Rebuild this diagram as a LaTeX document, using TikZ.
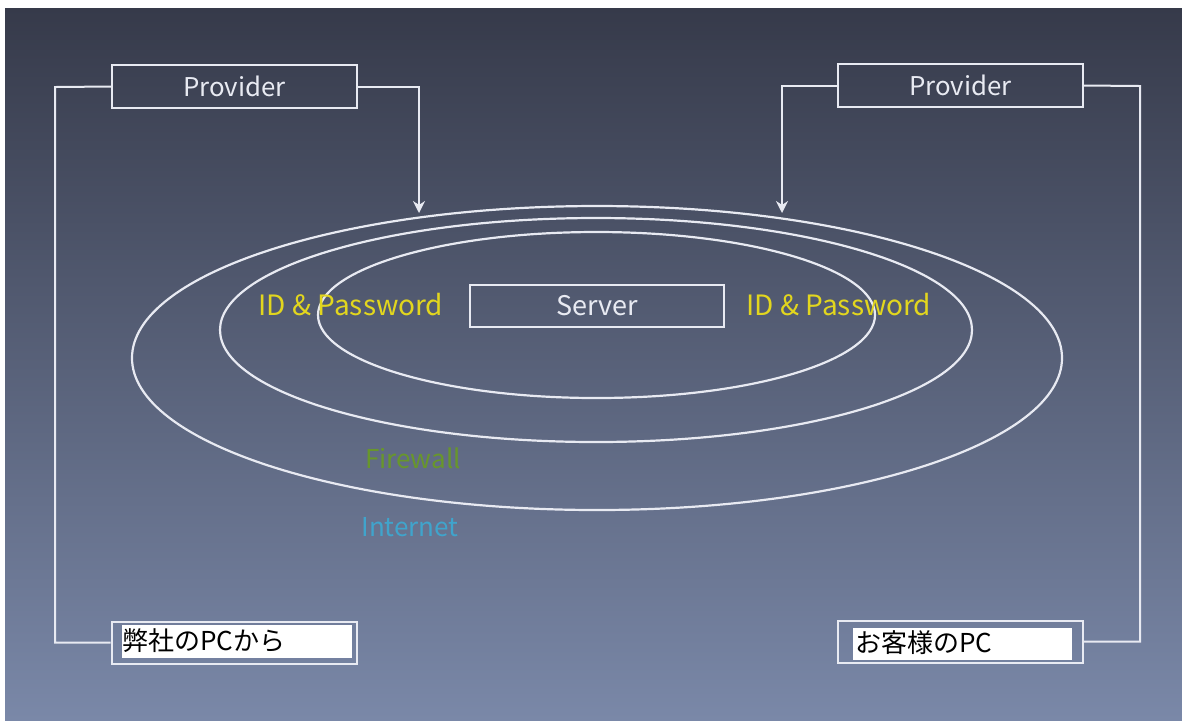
\documentclass[tikz,border=0pt]{standalone}
\usepackage{fontspec}
\setmainfont{Noto Sans CJK JP}
\usetikzlibrary{shapes.geometric,arrows.meta}
\definecolor{linew}{RGB}{232,234,242}
\definecolor{bgtop}{RGB}{54,58,74}
\definecolor{bgmid}{RGB}{74,80,104}
\definecolor{bgbot}{RGB}{122,136,168}
\definecolor{idyellow}{RGB}{226,214,30}
\definecolor{fwgreen}{RGB}{104,150,44}
\definecolor{netblue}{RGB}{64,164,204}
\tikzset{
  box/.style={draw=linew, line width=1pt, inner sep=0pt, minimum width=122.5pt, minimum height=21.5pt, text=linew},
  ring/.style={draw=linew, line width=1.1pt, ellipse, inner sep=0pt},
  conn/.style={draw=linew, line width=1pt},
  arr/.style={conn, -{Stealth[length=6pt,width=6pt]}},
  pcbox/.style={draw=linew, line width=1pt, inner sep=0pt, minimum width=122.5pt, minimum height=21pt},
  pcfield/.style={fill=white, draw=none, inner sep=0pt, text=black, align=left, anchor=west, font=\fontsize{13}{15}\selectfont}
}
\begin{document}
\begin{tikzpicture}[x=0.5pt,y=-0.5pt]
\useasboundingbox (0,0) rectangle (1182,720);
\fill[white] (0,0) rectangle (1182,720);
\shade[top color=bgtop, middle color=bgmid, bottom color=bgbot] (5,8) rectangle (1182,720);

% ellipses
\node[ring, minimum width=465pt, minimum height=152pt] (outer) at (597,358) {};
\node[ring, minimum width=376pt, minimum height=112pt] (middle) at (596,330) {};
\node[ring, minimum width=278.5pt, minimum height=83pt] (inner) at (596.5,315) {};

% boxes
\node[box, font=\fontsize{12.9}{14}\selectfont] (provL) at (234.5,86.5) {Provider};
\node[box, font=\fontsize{12.9}{14}\selectfont] (provR) at (960.5,85.5) {Provider};
\node[box, minimum width=127pt, minimum height=21pt, font=\fontsize{13.5}{15}\selectfont] (server) at (597,306) {Server};

% PC boxes
\node[pcbox] (pcL) at (234,642.5) {};
\fill[white] (122,625) rectangle (352,658);
\node[pcfield] (pcLt) at (122,641) {弊社のPCから};
\node[pcbox] (pcR) at (960.5,641.5) {};
\fill[white] (853,628) rectangle (1072,660);
\node[pcfield] (pcRt) at (855,643) {お客様のPC};

% labels
\node[text=idyellow, font=\fontsize{14}{16}\selectfont] (idL) at (351,305) {ID \& Password};
\node[text=idyellow, font=\fontsize{14}{16}\selectfont] (idR) at (839,305) {ID \& Password};
\node[text=fwgreen, font=\fontsize{13}{15}\selectfont] (fw) at (413,458) {Firewall};
\node[text=netblue, font=\fontsize{13}{15}\selectfont] (net) at (410,527) {Internet};

% connectors
\coordinate (tipL) at (419,213);
\coordinate (tipR) at (782,213);
\coordinate (cornL) at (55,87);
\coordinate (cornR) at (1140,86);
\draw[conn] (provL.west) -- (cornL) |- (pcL.west);
\draw[arr] (provL.east) -| (tipL);
\draw[arr] (provR.west) -| (tipR);
\draw[conn] (provR.east) -- (cornR) |- (pcR.east);
\end{tikzpicture}
\end{document}
